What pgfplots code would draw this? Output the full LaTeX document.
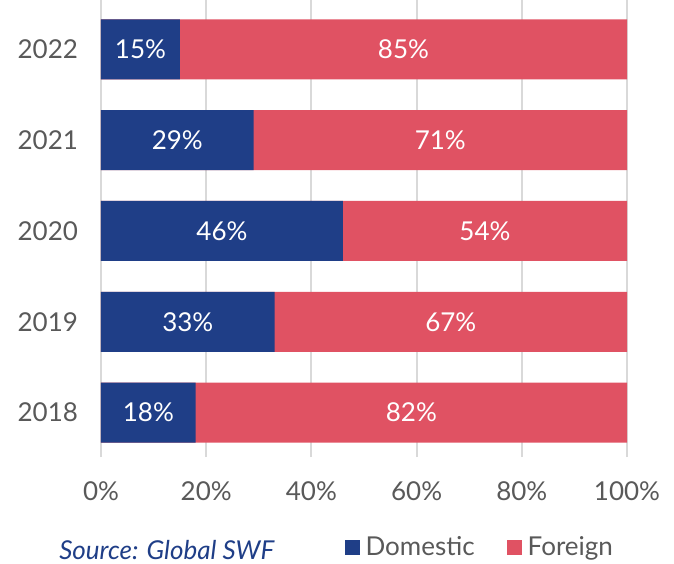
\documentclass[border=0pt]{standalone}
\usepackage{fontspec}
\setmainfont{Lato}
\usepackage{pgfplots}
\usepackage{pgfplotstable}
\pgfplotsset{compat=1.18}
\definecolor{dom}{HTML}{1F3E87}
\definecolor{forc}{HTML}{E05263}
\definecolor{gridc}{HTML}{D9D9D9}
\definecolor{txt}{HTML}{595959}
\pgfplotstableread{
y dom for
0 18 82
1 33 67
2 46 54
3 29 71
4 15 85
}\data
\begin{document}
\begin{tikzpicture}
\path[use as bounding box] (-50.5pt,-53pt) rectangle (286.5pt,228.5pt);
\begin{axis}[
  scale only axis, width=263pt, height=228.5pt,
  xmin=0, xmax=100, ymin=-0.49, ymax=4.545,
  xtick={0,20,...,100},
  xticklabel={\pgfmathprintnumber{\tick}\%},
  ytick={0,1,2,3,4},
  yticklabels={2018,2019,2020,2021,2022},
  /pgf/number format/assume math mode=true,
  xmajorgrids, major grid style={gridc, line width=1pt},
  axis line style={draw=none},
  major tick length=0pt,
  tick label style={font=\fontsize{13}{15}\selectfont, text=txt},
  xticklabel style={yshift=-9pt},
  yticklabel style={xshift=-8pt},
  legend style={at={(0.722,-0.198)}, anchor=center, draw=none, fill=none,
    legend columns=2, font=\fontsize{13}{15}\selectfont, text=txt,
    /tikz/every even column/.append style={column sep=14pt},
    legend cell align=left},
  legend image code/.code={\fill[#1] (0pt,-3.75pt) rectangle (7.5pt,3.75pt); \path (8.5pt,0pt);},
  clip=false,
]
\addplot[xbar, bar shift=0pt, bar width=30pt, fill=forc, draw=none, forget plot]
  table[x expr=\thisrow{dom}+\thisrow{for}, y=y] {\data};
\addplot[xbar, bar shift=0pt, bar width=30pt, fill=dom, draw=none, forget plot]
  table[x=dom, y=y] {\data};
\addlegendimage{fill=dom, draw=none}
\addlegendentry{Domestic}
\addlegendimage{fill=forc, draw=none}
\addlegendentry{Foreign}
\addplot[draw=none, mark=none, forget plot,
  nodes near coords={\pgfmathprintnumber{\pgfplotspointmeta}\%},
  point meta=explicit,
  every node near coord/.style={anchor=center, text=white, font=\fontsize{13}{15}\selectfont}]
  table[x expr=\thisrow{dom}/2, y=y, meta=dom] {\data};
\addplot[draw=none, mark=none, forget plot,
  nodes near coords={\pgfmathprintnumber{\pgfplotspointmeta}\%},
  point meta=explicit,
  every node near coord/.style={anchor=center, text=white, font=\fontsize{13}{15}\selectfont}]
  table[x expr=\thisrow{dom}+\thisrow{for}/2, y=y, meta=for] {\data};
\node[font=\itshape\fontsize{13}{15}\selectfont, text=dom] at (rel axis cs:0.125,-0.203) {Source: Global SWF};
\end{axis}
\end{tikzpicture}
\end{document}
